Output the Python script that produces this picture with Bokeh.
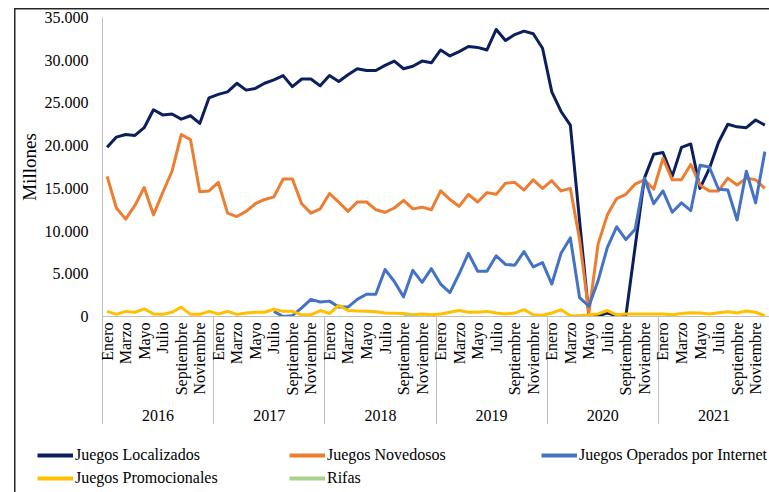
import math
import numpy as np
from bokeh.plotting import figure
from bokeh.layouts import column
from bokeh.models import Range1d, FixedTicker, LinearAxis, Legend, LegendItem
from bokeh.embed import file_html
from bokeh.resources import INLINE

years = ["2016", "2017", "2018", "2019", "2020", "2021"]
month_labels = ["Enero", "Marzo", "Mayo", "Julio", "Septiembre", "Noviembre"]
y_ticks = [0, 5000, 10000, 15000, 20000, 25000, 30000, 35000]
y_tick_labels = ["0", "5.000", "10.000", "15.000", "20.000", "25.000", "30.000", "35.000"]

nan = float("nan")
localizados = [19800, 21000, 21300, 21200, 22100, 24200, 23600, 23700, 23100, 23500, 22600, 25600,
               26000, 26300, 27300, 26500, 26700, 27300, 27700, 28200, 26900, 27800, 27800, 27000,
               28200, 27500, 28300, 29000, 28800, 28800, 29400, 29900, 29000, 29300, 29900, 29700,
               31200, 30500, 31000, 31600, 31500, 31200, 33600, 32300, 33000, 33400, 33100, 31400,
               26300, 24000, 22400, 11200, 100, 100, 400, 100, 100, 8200, 16200, 19000,
               19200, 16400, 19800, 20200, 15000, 17300, 20400, 22500, 22200, 22100, 23000, 22400]
novedosos = [16400, 12700, 11400, 13000, 15100, 11900, 14500, 17000, 21300, 20700, 14600, 14700,
             15700, 12100, 11700, 12300, 13200, 13700, 14000, 16100, 16100, 13200, 12100, 12600,
             14400, 13400, 12300, 13400, 13400, 12500, 12200, 12700, 13600, 12600, 12800, 12500,
             14700, 13700, 12900, 14300, 13400, 14500, 14300, 15600, 15700, 14800, 16000, 15000,
             15900, 14700, 15000, 9000, 400, 8500, 11900, 13800, 14300, 15500, 16000, 14900,
             18500, 16000, 16000, 17800, 15400, 14700, 14700, 16200, 15400, 16200, 16000, 15000]
internet = [nan, nan, nan, nan, nan, nan, nan, nan, nan, nan, nan, nan,
            nan, nan, nan, nan, nan, nan, 600, 0, 100, 1000, 2000, 1700,
            1800, 1100, 1100, 2000, 2600, 2600, 5500, 4100, 2300, 5400, 4000, 5600,
            3800, 2800, 5000, 7400, 5300, 5300, 7100, 6100, 6000, 7600, 5800, 6300,
            3800, 7400, 9200, 2200, 1200, 4200, 8100, 10500, 9000, 10200, 16200, 13200,
            14700, 12200, 13300, 12400, 17700, 17500, 14900, 14800, 11300, 17000, 13300, 19300]
promocionales = [600, 250, 600, 500, 900, 300, 250, 500, 1100, 250, 250, 600,
                 300, 600, 250, 400, 500, 500, 850, 600, 600, 200, 200, 700,
                 350, 1300, 700, 630, 600, 550, 400, 380, 350, 200, 300, 200,
                 300, 500, 700, 500, 500, 600, 400, 300, 400, 800, 200, 150,
                 400, 800, 100, 100, 200, 300, 700, 200, 300, 300, 300, 300,
                 300, 200, 350, 450, 400, 300, 450, 550, 400, 650, 500, 100]
rifas = [nan] * 32 + [30, 30] + [nan] * 38

series_names = ["Juegos Localizados", "Juegos Novedosos", "Juegos Operados por Internet",
                "Juegos Promocionales", "Rifas"]
series_values = [localizados, novedosos, internet, promocionales, rifas]
series_colors = ["#0b1f5e", "#ed7d31", "#4472c4", "#ffc000", "#a9d18e"]

n = len(localizados)
x = np.arange(n)

FONT = "Liberation Serif"
GRAY = "#bfbfbf"
BORDER = "#262626"

# ---------------- main chart ----------------
p = figure(width=769, height=424, output_backend="svg", toolbar_location=None,
           x_range=Range1d(-0.5, 71.5), y_range=Range1d(0, 35000),
           min_border_left=102, min_border_top=17, min_border_right=0, min_border_bottom=108)
p.outline_line_color = None
p.grid.visible = False
p.background_fill_color = "white"
p.border_fill_alpha = 0
p.styles = {
    "background-color": "white",
    "background-image": f"linear-gradient({BORDER}, {BORDER}), linear-gradient({BORDER}, {BORDER})",
    "background-size": "1.5px 100%, 100% 1.5px",
    "background-position": "14px 8px, 14px 8px",
    "background-repeat": "no-repeat",
}

for vals, col in zip(series_values, series_colors):
    p.line(x, vals, line_color=col, line_width=3, line_join="round")

# month axis (year separators drawn as long minor ticks)
month_ticks = [i for i in range(n) if i % 2 == 0]
separators = [12 * k - 0.5 for k in range(len(years))]
xa = p.xaxis[0]
xa.ticker = FixedTicker(ticks=month_ticks, minor_ticks=separators)
xa.major_label_overrides = {i: month_labels[(i % 12) // 2] for i in month_ticks}
xa.major_label_orientation = math.pi / 2
xa.major_tick_out = 0
xa.major_tick_in = 0
xa.major_tick_line_color = None
xa.minor_tick_out = 109
xa.minor_tick_in = 0
xa.major_label_standoff = -103
xa.minor_tick_line_color = GRAY
xa.minor_tick_line_width = 1
xa.axis_line_color = GRAY
xa.major_label_text_font = FONT
xa.major_label_text_font_size = "16px"
xa.major_label_text_color = "black"

# year axis
year_ticks = [12 * k + 5.5 for k in range(len(years))]
ya2 = LinearAxis(ticker=FixedTicker(ticks=year_ticks, minor_ticks=[]),
                 major_label_overrides={t: yv for t, yv in zip(year_ticks, years)})
ya2.axis_line_color = None
ya2.major_tick_line_color = None
ya2.minor_tick_line_color = None
ya2.major_tick_out = 0
ya2.major_tick_in = 0
ya2.minor_tick_out = 0
ya2.major_label_standoff = 11
ya2.major_label_text_font = FONT
ya2.major_label_text_font_size = "16px"
ya2.major_label_text_color = "black"
p.add_layout(ya2, "below")

# y axis
yax = p.yaxis[0]
yax.ticker = FixedTicker(ticks=y_ticks, minor_ticks=[])
yax.major_label_overrides = {t: l for t, l in zip(y_ticks, y_tick_labels)}
yax.major_tick_out = 0
yax.major_tick_in = 0
yax.major_tick_line_color = None
yax.minor_tick_line_color = None
yax.axis_line_color = GRAY
yax.major_label_standoff = 14
yax.major_label_text_font = FONT
yax.major_label_text_font_size = "16px"
yax.major_label_text_color = "black"
yax.axis_label = "Millones"
yax.axis_label_standoff = 2
yax.axis_label_text_font = FONT
yax.axis_label_text_font_size = "19px"
yax.axis_label_text_font_style = "normal"
yax.axis_label_text_color = "black"

# ---------------- legend strip ----------------
q = figure(width=769, height=68, output_backend="svg", toolbar_location=None,
           x_axis_type=None, y_axis_type=None,
           x_range=Range1d(-0.5, 71.5), y_range=Range1d(-2, -1),
           min_border_left=0, min_border_top=0, min_border_right=0, min_border_bottom=0)
if "frame_align" in q.properties():
    q.frame_align = False
    p.frame_align = False
    legend_x = 37
else:
    legend_x = 37 - 102
q.outline_line_color = None
q.grid.visible = False
q.background_fill_alpha = 0
q.border_fill_alpha = 0
q.styles = {
    "background-color": "white",
    "background-image": f"linear-gradient({BORDER}, {BORDER})",
    "background-size": "1.5px 100%",
    "background-position": "14px 0px",
    "background-repeat": "no-repeat",
}
items = []
for name, vals, col in zip(series_names, series_values, series_colors):
    # legend proxies: same series, outside the strip's (empty) visible range
    r = q.line(x, vals, line_color=col, line_width=4)
    items.append(LegendItem(label=name, renderers=[r]))

legend_kw = dict(orientation="horizontal", label_width=214, glyph_width=36, glyph_height=20,
                 label_height=20, spacing=0, label_standoff=2, padding=0, margin=0,
                 border_line_color=None, background_fill_alpha=0,
                 label_text_font=FONT, label_text_font_size="16px", label_text_color="black")
q.add_layout(Legend(items=items[:3], location=(legend_x, 27), **legend_kw), "center")
q.add_layout(Legend(items=items[3:], location=(legend_x, 4), **legend_kw), "center")

layout = column(p, q, spacing=0)
open("out.html", "w").write(file_html(layout, INLINE))
